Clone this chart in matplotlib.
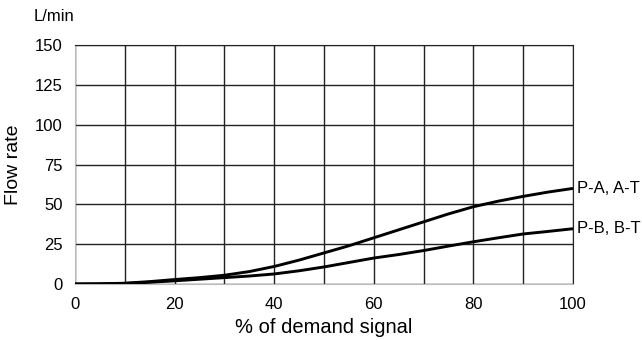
import matplotlib.pyplot as plt

plt.rcParams['font.family'] = ['Liberation Sans', 'DejaVu Sans']

# demand signal (%) and flow rate (L/min) for each path
signal = [0, 5, 10, 15, 20, 25, 30, 35, 40, 45, 50,
          55, 60, 65, 70, 75, 80, 85, 90, 95, 100]
flow_pa_at = [0, 0.1, 0.5, 1.5, 2.8, 4.0, 5.5, 7.8, 11, 15, 19.5,
              24, 29, 34, 39, 44, 48.5, 52, 55, 57.7, 60]
flow_pb_bt = [0, 0.1, 0.3, 1.1, 2.0, 3.0, 4.0, 5.0, 6.3, 8.3, 10.7,
              13.5, 16.3, 18.5, 21, 23.8, 26.5, 29, 31.4, 33, 34.7]
curve_labels = ["P-A, A-T", "P-B, B-T"]

fig = plt.figure(figsize=(6.42, 3.4), dpi=100)
ax = fig.add_axes([0.1168, 0.1647, 0.7757, 0.7029])

for ys, lab in zip([flow_pa_at, flow_pb_bt], curve_labels):
    ax.plot(signal, ys, color='black', lw=2.1, solid_capstyle='butt',
            solid_joinstyle='round', zorder=3)
    ax.annotate(lab, xy=(signal[-1], ys[-1]), xytext=(3, 0),
                textcoords='offset points', va='center', ha='left',
                fontsize=12, annotation_clip=False)

ax.set_xlim(0, 100)
ax.set_ylim(0, 150)
ax.set_xticks(range(0, 101, 20))
ax.set_xticks(range(0, 101, 10), minor=True)
ax.set_yticks(range(0, 151, 25))
ax.grid(True, which='both', color='#222222', lw=1.0)
ax.tick_params(which='both', length=0, labelsize=12, pad=9)

for side in ['top', 'right']:
    ax.spines[side].set_color('#222222')
for side in ['left', 'bottom']:
    ax.spines[side].set_color('#bbbbbb')

ax.set_ylabel("Flow rate", fontsize=14, labelpad=9)
ax.set_xlabel("% of demand signal", fontsize=14.5, labelpad=5)
fig.text(0.052, 0.952, "L/min", fontsize=12, ha='left', va='center')

fig.savefig("out.png", dpi=100)
